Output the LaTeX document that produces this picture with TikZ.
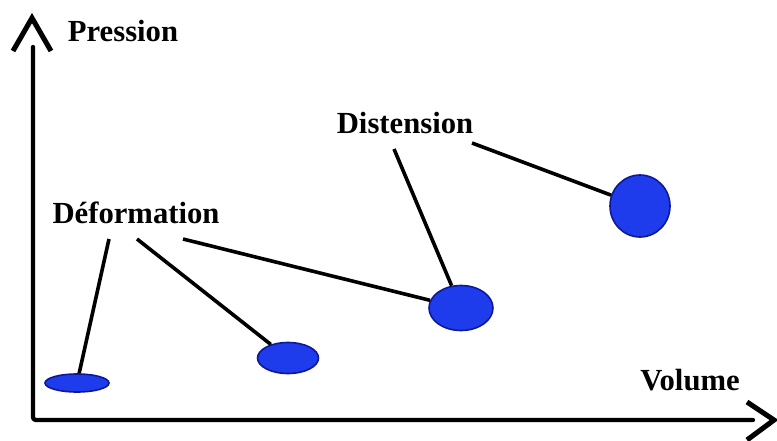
\documentclass[tikz,border=0pt]{standalone}
\usepackage{fontspec}
\setmainfont{Liberation Serif}
\usepackage{xcolor}
\usepackage{tikz}
\usetikzlibrary{shapes.geometric, positioning}

\definecolor{balloonblue}{RGB}{30,60,235}
\definecolor{balloonedge}{RGB}{15,25,150}

\tikzset{
  axisline/.style={line width=3.2pt, line cap=round, line join=round},
  chevron/.style={line width=3.8pt, line join=miter},
  leader/.style={line width=2.7pt},
  balloon/.style={ellipse, draw=balloonedge, fill=balloonblue, line width=1.2pt, inner sep=0pt},
  lbl/.style={font=\fontsize{23}{27}\selectfont\bfseries, anchor=base, inner sep=0pt}
}

\begin{document}
\begin{tikzpicture}[x=75pt, y=75pt]

  \useasboundingbox (0,0) rectangle (7.77,4.40);

  % axes
  \coordinate (O)    at (0.33,0.20);
  \coordinate (ytop) at (0.33,3.93);
  \coordinate (xend) at (7.53,0.20);
  \draw[axisline, rounded corners=2pt] (ytop) -- (O) -- (xend);
  \draw[chevron] (0.13,3.89) -- (0.32,4.22) -- (0.51,3.89);
  \draw[chevron] (7.47,0.38) -- (7.74,0.20) -- (7.47,0.00);

  \node[lbl] (pression) at (1.23,3.98) {Pression};
  \node[lbl] (volume)   at (6.90,0.50) {Volume};

  % balloons
  \node[balloon, minimum width=64pt*0.75, minimum height=18pt*0.75] (b1) at (0.77,0.57) {};
  \node[balloon, minimum width=61pt*0.75, minimum height=31pt*0.75] (b2) at (2.88,0.82) {};
  \node[balloon, minimum width=64pt*0.75, minimum height=45pt*0.75] (b3) at (4.61,1.32) {};
  \node[balloon, minimum width=60pt*0.75, minimum height=62pt*0.75] (b4) at (6.40,2.34) {};

  \node[lbl] (deformation) at (1.36,2.17) {Déformation};
  \node[lbl] (distension)  at (4.05,3.07) {Distension};

  \coordinate (d1) at (1.09,2.01);
  \coordinate (d2) at (1.37,2.01);
  \coordinate (d3) at (1.83,2.01);
  \coordinate (s1) at (3.94,2.91);
  \coordinate (s2) at (4.72,2.97);

  \draw[leader] (d1) -- (b1);
  \draw[leader] (d2) -- (b2);
  \draw[leader] (d3) -- (b3);
  \draw[leader] (s1) -- (b3);
  \draw[leader] (s2) -- (b4);

\end{tikzpicture}
\end{document}
